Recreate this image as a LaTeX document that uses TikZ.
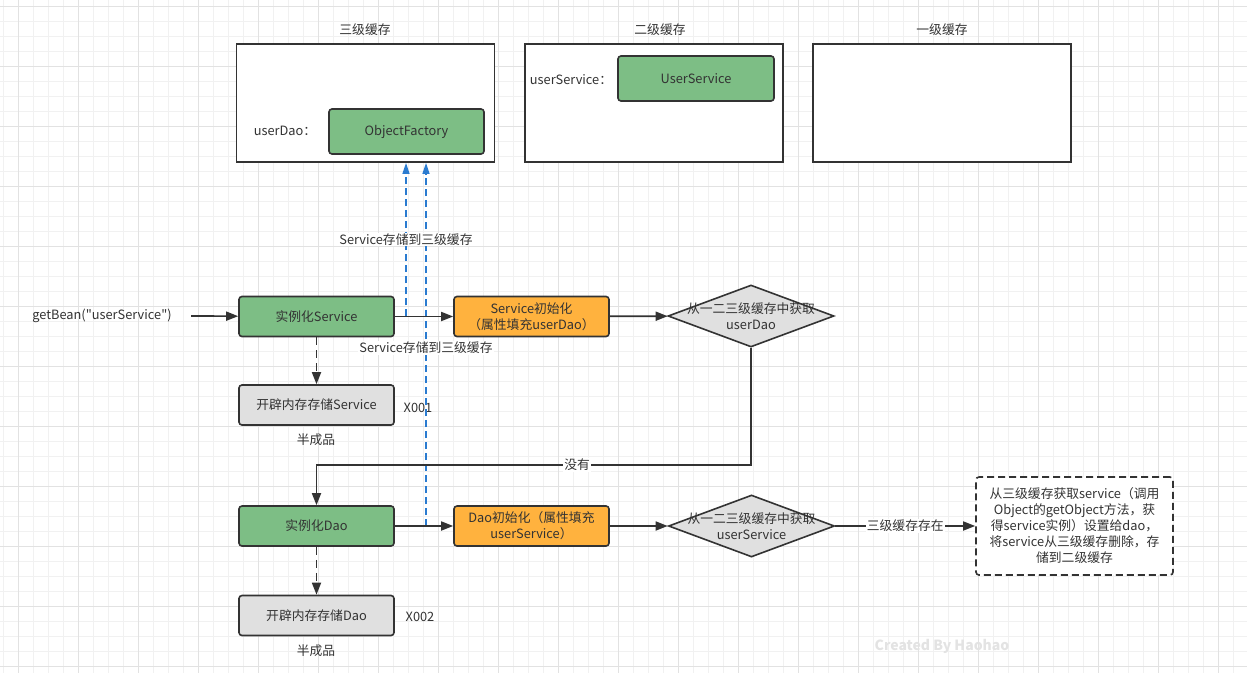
\documentclass[tikz,border=0pt]{standalone}
\usepackage{fontspec}
\newfontfamily\diagramfont{Noto Sans CJK SC}
\usetikzlibrary{arrows.meta,shapes.geometric}
\definecolor{beangreen}{HTML}{7DBE85}
\definecolor{beanorange}{HTML}{FFB23E}
\definecolor{beangray}{HTML}{E0E0E0}
\definecolor{linedark}{HTML}{333333}
\definecolor{storeblue}{HTML}{2A7BD0}
\definecolor{gridmajor}{HTML}{E2E2E2}
\definecolor{gridminor}{HTML}{F1F1F1}
\begin{document}
\begin{tikzpicture}[x=1pt,y=-1pt,
  font=\diagramfont\fontsize{12.8}{16}\selectfont, text=linedark,
  cachebox/.style={draw=linedark,line width=1.8pt,fill=white,minimum width=258pt,minimum height=118pt,inner sep=0pt},
  bean/.style={draw=linedark,line width=1.6pt,rounded corners=3pt,minimum width=155pt,minimum height=40pt,align=center,inner sep=1pt},
  lookup/.style={diamond,draw=linedark,line width=1.6pt,fill=beangray,minimum width=166pt,minimum height=62pt,inner sep=0pt},
  note/.style={draw=linedark,line width=1.6pt,dash pattern=on 7pt off 4pt,rounded corners=3pt,fill=white,minimum width=197pt,minimum height=98pt,align=center,inner sep=2pt},
  flow/.style={draw=linedark,line width=1.7pt,-{Triangle[length=12pt,width=9pt]}},
  store/.style={draw=storeblue,line width=1.4pt,dash pattern=on 7pt off 4pt,-{Triangle[length=11pt,width=7pt]}},
  caption/.style={fill=white,inner sep=1pt}]
\useasboundingbox (0,0) rectangle (1247,673);
\fill[white] (0,0) rectangle (1247,673);
\foreach \gx in {3,18,...,1247} \draw[gridminor,line width=0.8pt] (\gx,0) -- (\gx,673);
\foreach \gy in {6,21,...,673} \draw[gridminor,line width=0.8pt] (0,\gy) -- (1247,\gy);
\foreach \gx in {18,78,...,1247} \draw[gridmajor,line width=0.8pt] (\gx,0) -- (\gx,673);
\foreach \gy in {6,66,...,673} \draw[gridmajor,line width=0.8pt] (0,\gy) -- (1247,\gy);

\node[cachebox] (cache3) at (365.5,103) {};
\node (cache3title) at (365,30) {三级缓存};
\node (daolabel) at (285,131) {userDao：};
\node[bean,fill=beangreen,minimum height=45pt] (objfactory) at (406.5,131.5) {ObjectFactory};
\node[cachebox] (cache2) at (654,103) {};
\node (cache2title) at (660,30) {二级缓存};
\node (servicelabel) at (571,80) {userService：};
\node[bean,fill=beangreen,minimum height=45pt,minimum width=156pt] (userservice) at (696,78.5) {UserService};
\node[cachebox] (cache1) at (942,103) {};
\node (cache1title) at (942,30) {一级缓存};

\node (getbean) at (102,316) {getBean("userService")};
\node[bean,fill=beangreen] (newservice) at (316.5,316.5) {实例化Service};
\node[bean,fill=beanorange] (initservice) at (531.5,316.5) {Service初始化\\（属性填充userDao）};
\node[lookup] (findDao) at (751,316) {};
\node[align=center] (findDaoText) at (findDao) {从一二三级缓存中获取\\userDao};
\node[bean,fill=beangray] (halfservice) at (316.5,405) {开辟内存存储Service};
\node (addr1) at (418,408) {X001};
\node (half1) at (316,440) {半成品};

\node[bean,fill=beangreen] (newdao) at (316.5,526) {实例化Dao};
\node[bean,fill=beanorange] (initdao) at (531.5,526) {Dao初始化（属性填充\\userService）};
\node[lookup] (findService) at (751.5,526) {};
\node[align=center] (findServiceText) at (findService) {从一二三级缓存中获取\\userService};
\node[note] (fromthree) at (1074.5,526) {从三级缓存获取service（调用\\Object的getObject方法，获\\得service实例）设置给dao，\\将service从三级缓存删除，存\\储到二级缓存};
\node[bean,fill=beangray] (halfdao) at (316.5,615.5) {开辟内存存储Dao};
\node (addr2) at (420,617) {X002};
\node (half2) at (316,651) {半成品};

\coordinate (saveDao) at (426,526);
\coordinate (saveService) at (406,316);
\draw[store] (saveDao) -- (saveDao |- cache3.south) node[caption,pos=0.49] {Service存储到三级缓存};
\draw[store] (saveService) -- (saveService |- cache3.south) node[caption,midway] {Service存储到三级缓存};

\draw[flow] ([xshift=16pt]getbean.east) -- (newservice);
\draw[flow] (newservice) -- (initservice);
\draw[flow] (initservice) -- (findDao);
\draw[flow,dash pattern=on 8pt off 5pt] (newservice) -- (halfservice);
\coordinate (noneturn) at (751,465);
\draw[flow] (findDao.south) -- (noneturn) -| node[caption,pos=0.2] {没有} (newdao.north);
\draw[flow] (newdao) -- (initdao);
\draw[flow] (initdao) -- (findService);
\draw[flow] (findService) -- node[caption] {三级缓存存在} (fromthree);
\draw[flow,dash pattern=on 8pt off 5pt] (newdao) -- (halfdao);

\node[text=black!11,font=\diagramfont\fontsize{14}{16}\selectfont\bfseries] (watermark) at (942,646) {Created By Haohao};
\end{tikzpicture}
\end{document}
